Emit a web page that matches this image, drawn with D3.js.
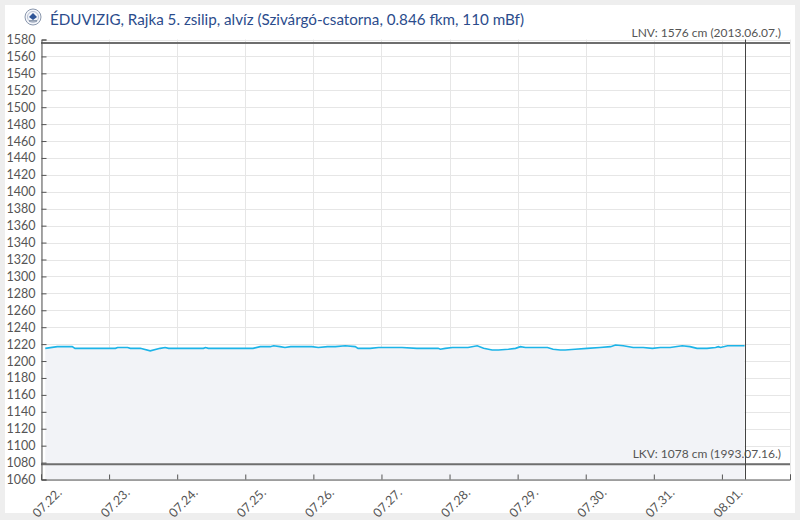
<!DOCTYPE html>
<html><head><meta charset="utf-8">
<script src="https://cdn.jsdelivr.net/npm/d3@7"></script>
<style>
html,body{margin:0;padding:0;background:#eeeeee;}
svg{display:block;font-family:Lato,"Open Sans",sans-serif;}
</style></head>
<body>
<svg id="c" width="800" height="520"></svg>
<script>
// ---- data ----
const titleText = "ÉDUVIZIG, Rajka 5. zsilip, alvíz (Szivárgó-csatorna, 0.846 fkm, 110 mBf)";
const times = ["07.22 01:30","07.22 05:45","07.22 11:00","07.22 12:00","07.23 02:15","07.23 03:00","07.23 06:30","07.23 07:30","07.23 11:00","07.23 14:30","07.23 18:00","07.23 19:45","07.23 21:00","07.24 09:15","07.24 10:00","07.24 11:00","07.25 02:45","07.25 05:15","07.25 08:45","07.25 10:00","07.25 12:15","07.25 14:00","07.25 16:00","07.25 23:30","07.26 01:45","07.26 05:00","07.26 07:45","07.26 11:15","07.26 14:45","07.26 15:45","07.26 20:00","07.26 23:00","07.27 02:30","07.27 07:15","07.27 12:30","07.27 20:00","07.27 20:45","07.27 22:30","07.28 01:00","07.28 06:30","07.28 09:45","07.28 12:00","07.28 15:00","07.28 17:15","07.28 20:45","07.28 23:15","07.29 01:00","07.29 02:45","07.29 10:30","07.29 12:30","07.29 15:00","07.29 16:45","07.29 20:15","07.30 00:30","07.30 05:00","07.30 08:45","07.30 10:30","07.30 13:15","07.30 16:45","07.30 20:15","07.30 23:30","07.31 02:15","07.31 05:45","07.31 10:00","07.31 12:45","07.31 15:15","07.31 18:45","07.31 21:45","07.31 22:45","07.31 23:30","08.01 02:00","08.01 08:00"];
const levels = [1215,1217,1217,1215,1215,1216,1216,1215,1215,1212,1215,1216,1215,1215,1216,1215,1215,1217,1217,1218,1217,1216,1217,1217,1216,1217,1217,1218,1217,1215,1215,1216,1216,1216,1215,1215,1214,1215,1216,1216,1218,1215,1213,1213,1214,1215,1217,1216,1216,1214,1213,1213,1214,1215,1216,1217,1219,1218,1216,1216,1215,1216,1216,1218,1217,1215,1215,1216,1217,1216,1218,1218];
const xDomain = ["07.22 00:00","08.02 00:00"];
const xTickDays = ["07.22 00:00","07.23 00:00","07.24 00:00","07.25 00:00","07.26 00:00","07.27 00:00","07.28 00:00","07.29 00:00","07.30 00:00","07.31 00:00","08.01 00:00","08.02 00:00"];
const yDomain = [1060,1580];
const yTicks = [1060,1080,1100,1120,1140,1160,1180,1200,1220,1240,1260,1280,1300,1320,1340,1360,1380,1400,1420,1440,1460,1480,1500,1520,1540,1560,1580];
const refLines = [{value:1576,label:"LNV: 1576 cm (2013.06.07.)"},{value:1078,label:"LKV: 1078 cm (1993.07.16.)"}];
const nowTime = "08.01 08:00";

// ---- setup ----
const parse = d3.timeParse("%m.%d %H:%M");
const data = times.map((t,i)=>({t:parse(t), v:levels[i]}));
const svg = d3.select("#c");
const L=41, R=790, T=39.5, B=479.5;

svg.append("rect").attr("x",5).attr("y",5).attr("width",790).attr("height",508).attr("fill","#fff");

const x = d3.scaleTime().domain(xDomain.map(parse)).range([L,R]);
const y = d3.scaleLinear().domain(yDomain).range([B,T]);

// grid
const grid = svg.append("g");
grid.selectAll("line.h").data(yTicks).join("line")
  .attr("x1",L).attr("x2",R).attr("y1",d=>Math.round(y(d))+0.5).attr("y2",d=>Math.round(y(d))+0.5)
  .attr("stroke","#e6e6e6");
grid.selectAll("line.v").data(xTickDays.map(parse)).join("line")
  .attr("y1",T).attr("y2",B).attr("x1",d=>Math.round(x(d))+0.5).attr("x2",d=>Math.round(x(d))+0.5)
  .attr("stroke","#e6e6e6");

// area + line
svg.append("path").datum(data)
  .attr("d",d3.area().x(d=>x(d.t)).y0(y(yDomain[0])).y1(d=>y(d.v)))
  .attr("fill","#f2f3f7");
svg.append("path").datum(data)
  .attr("d",d3.line().x(d=>x(d.t)).y(d=>y(d.v)))
  .attr("fill","none").attr("stroke","#1cb4e8").attr("stroke-width",1.6);

// ref lines
refLines.forEach(r=>{
  svg.append("line").attr("x1",L).attr("x2",R).attr("y1",y(r.value)).attr("y2",y(r.value))
    .attr("stroke","#6e6e6e").attr("stroke-width",2);
  svg.append("text").attr("x",781).attr("y",y(r.value)-6).attr("text-anchor","end")
    .attr("font-size",12).attr("fill","#555").text(r.label);
});

// now line
svg.append("line").attr("x1",Math.round(x(parse(nowTime)))+0.5).attr("x2",Math.round(x(parse(nowTime)))+0.5)
  .attr("y1",T).attr("y2",B).attr("stroke","#444").attr("stroke-width",1);

// axes
const yAx = svg.append("g").attr("transform",`translate(${L+0.5},0)`)
  .call(d3.axisLeft(y).tickValues(yTicks).tickSize(-5).tickPadding(6).tickFormat(d3.format("d")));
yAx.select(".domain").attr("stroke","#555");
yAx.selectAll(".tick line").attr("stroke","#555");
yAx.selectAll("text").attr("font-size",12.5).attr("fill","#555").attr("font-family","Lato");

const xAx = svg.append("g").attr("transform",`translate(0,${B})`)
  .call(d3.axisBottom(x).tickValues(xTickDays.map(parse)).tickSize(-5).tickFormat(d3.timeFormat("%m.%d.")));
xAx.select(".domain").attr("stroke","#555");
xAx.selectAll(".tick line").attr("stroke","#555");
xAx.selectAll("text").attr("x",0).attr("y",0).attr("dy",null)
  .attr("transform","translate(21,14) rotate(-45)").style("text-anchor","end")
  .attr("font-size",12.5).attr("fill","#555").attr("font-family","Lato");
xAx.selectAll(".tick").filter((d,i,n)=>i===n.length-1).select("text").remove();

// title + logo
const logo = svg.append("g").attr("transform","translate(33,17)");
logo.append("circle").attr("r",8).attr("fill","#f4f6fa").attr("stroke","#8a97ad").attr("stroke-width",1);
logo.append("circle").attr("r",5.5).attr("fill","none").attr("stroke","#a8b3c6").attr("stroke-width",0.8);
logo.append("path").attr("d","M-4,0 L0,-4 L4,0 L0,3 Z").attr("fill","#2f5597");
logo.append("rect").attr("x",-4).attr("y",3.2).attr("width",8).attr("height",1.4).attr("fill","#7a88a0");
svg.append("text").attr("x",50).attr("y",25).attr("font-size",15.2).attr("fill","#2b4c8c")
  .text(titleText);
</script>
</body></html>
